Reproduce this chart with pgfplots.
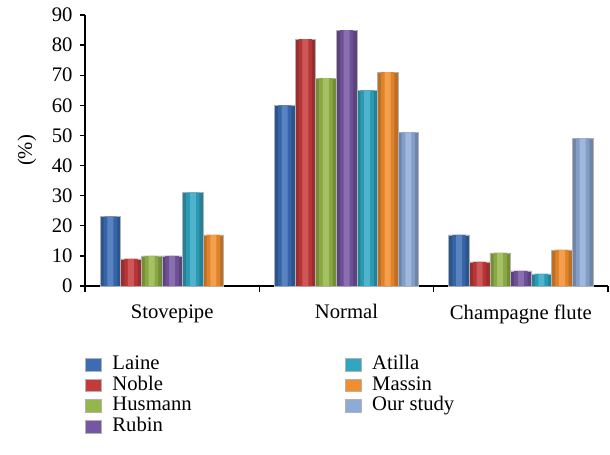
\documentclass[border=0pt]{standalone}
\usepackage{graphicx}
\usepackage{fontspec}
\setmainfont{Liberation Serif}
\usepackage{pgfplots}
\pgfplotsset{compat=1.18}

\definecolor{cLaine}{HTML}{3A6DB5}
\definecolor{cNoble}{HTML}{C53B3B}
\definecolor{cHusmann}{HTML}{95B648}
\definecolor{cRubin}{HTML}{7556A2}
\definecolor{cAtilla}{HTML}{2FA6C2}
\definecolor{cMassin}{HTML}{F28E2E}
\definecolor{cOur}{HTML}{8EABD8}

% one series: dark outer bar, lighter inner strips for the cylinder look
\newcommand\cylbar[3]{%
  \addplot[ybar, bar width=15.45pt, bar shift=#2, fill=#1!78!black, draw=gray!60,
    legend image code/.code={\draw[fill=#1, draw=gray!60] (0pt,-4.7pt) rectangle (12pt,4.7pt);}]
    coordinates {#3};
  \addplot[forget plot, ybar, bar width=10pt, bar shift=#2, fill=#1!92!black, draw=none]
    coordinates {#3};
  \addplot[forget plot, ybar, bar width=4.5pt, bar shift=#2, fill=#1!85!white, draw=none]
    coordinates {#3};
}

\begin{document}
\fontsize{15.5}{18}\selectfont
\begin{tikzpicture}
\begin{axis}[
  at={(0,0)}, anchor=south west,
  scale only axis, width=392.25pt, height=203.25pt,
  xmin=-0.5, xmax=2.5, ymin=0, ymax=90,
  xtick={0,1,2},
  xticklabels={Stovepipe,Normal,Champagne flute},
  xticklabel style={yshift=-4.5pt},
  minor xtick={-0.5,0.5,1.5,2.5},
  major x tick style={draw=none},
  ytick={0,10,...,90},
  axis x line*=bottom, axis y line*=left,
  axis line style={line width=1.1pt},
  tick style={line width=1pt, black},
  tick align=outside,
  major tick length=4pt, minor tick length=4.5pt,
  /pgf/number format/assume math mode=true,
  legend columns=4, transpose legend,
  legend style={at={(axis description cs:0,-0.256)}, anchor=north west,
    draw=none, fill=none, inner sep=0pt, row sep=2pt,
    nodes={inner sep=0pt, text height=10.5pt, text depth=3pt},
    /tikz/column 1/.style={column sep=8pt},
    /tikz/column 2/.style={column sep=115pt},
    /tikz/column 3/.style={column sep=8pt}},
  legend cell align=left,
  clip=false,
]
\cylbar{cLaine}{-46.35pt}{(0,23) (1,60) (2,17)}
\cylbar{cNoble}{-30.9pt}{(0,9) (1,82) (2,8)}
\cylbar{cHusmann}{-15.45pt}{(0,10) (1,69) (2,11)}
\cylbar{cRubin}{0pt}{(0,10) (1,85) (2,5)}
\cylbar{cAtilla}{15.45pt}{(0,31) (1,65) (2,4)}
\cylbar{cMassin}{30.9pt}{(0,17) (1,71) (2,12)}
\cylbar{cOur}{46.35pt}{(1,51) (2,49)}
\legend{Laine,Noble,Husmann,Rubin,Atilla,Massin,Our study}
\node[anchor=center, inner sep=0pt] at (axis description cs:-0.111,0.5) {\rotatebox{90}{(\%)}};
\end{axis}
\pgfresetboundingbox
\path (-63.75pt,-126pt) rectangle (393.75pt,214.5pt);
\end{tikzpicture}
\end{document}
